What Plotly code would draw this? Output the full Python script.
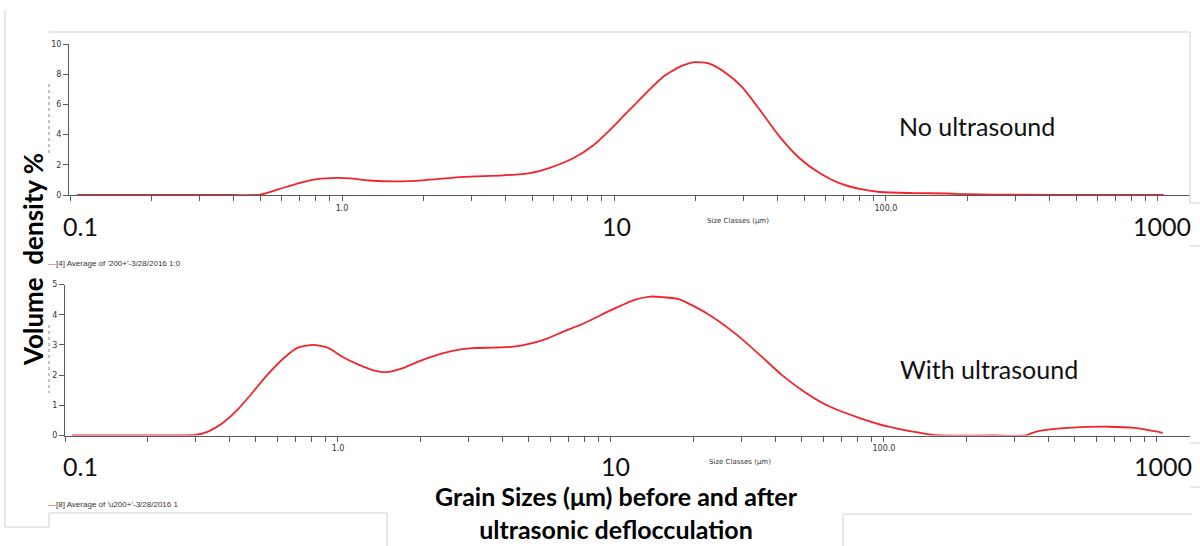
import plotly.graph_objects as go

# ---------------- data ----------------
size_no_us = [0.106, 0.2, 0.3, 0.4, 0.5, 0.59, 0.70, 0.81, 0.96, 1.07, 1.26, 1.59, 1.98,
              2.79, 3.9, 4.9, 5.8, 7.1, 8.4, 9.4, 10.8, 13.2, 15.1, 17.5, 19.8, 22.4,
              25.7, 29.6, 34.5, 40.7, 48, 57, 67, 80, 95, 125, 167, 198, 300, 600, 1050]
dens_no_us = [0, 0, 0, 0, 0.02, 0.4, 0.8, 1.05, 1.13, 1.1, 0.96, 0.9, 0.97,
              1.2, 1.3, 1.45, 1.8, 2.45, 3.3, 4.1, 5.2, 6.8, 7.8, 8.5, 8.8, 8.7,
              8.1, 7.15, 5.6, 3.85, 2.45, 1.45, 0.8, 0.4, 0.2, 0.13, 0.1, 0.05, 0.02, 0.01, 0.01]

size_us = [0.106, 0.2, 0.3, 0.334, 0.376, 0.427, 0.484, 0.55, 0.64, 0.71, 0.81, 0.92,
           1.04, 1.2, 1.36, 1.52, 1.73, 2.0, 2.3, 2.63, 3.1, 3.7, 4.4, 5.0, 5.8, 6.7,
           7.9, 10, 12.2, 13.9, 15.5, 17.8, 22.4, 28.4, 34.5, 42.3, 51.8, 63.5, 82, 104,
           146, 160, 250, 330, 361, 472, 664, 830, 1050]
dens_us = [0, 0, 0.02, 0.13, 0.4, 0.84, 1.4, 2.0, 2.6, 2.9, 3.0, 2.9,
           2.6, 2.33, 2.15, 2.1, 2.23, 2.47, 2.66, 2.8, 2.89, 2.91, 2.94, 3.03, 3.2, 3.44,
           3.7, 4.15, 4.49, 4.6, 4.58, 4.51, 4.05, 3.39, 2.73, 2.0, 1.41, 0.95, 0.57, 0.29,
           0.04, 0, 0, 0, 0.13, 0.25, 0.29, 0.25, 0.09]

y_ticks_top = [0, 2, 4, 6, 8, 10]
y_ticks_bottom = [0, 1, 2, 3, 4, 5]
x_tick_vals = [m * d for d in (0.1, 1, 10, 100) for m in range(1, 10)] + [1000]
x_tick_text = {1: "1.0", 100: "100.0"}

panel_labels = ["No ultrasound", "With ultrasound"]
legend_labels = ["[4] Average of '200+'-3/28/2016 1:0", "[8] Average of 'u200+'-3/28/2016 1"]
big_x_labels = ["0.1", "10", "1000"]

W, H = 1200, 546
def px(x): return x / W
def py(y): return 1 - y / H

RED = "#f2232b"
AX = "#5a5a5a"

fig = go.Figure()
fig.add_trace(go.Scatter(x=size_no_us, y=dens_no_us, mode="lines",
                         line=dict(color=RED, width=1.8, shape="spline", smoothing=0.6),
                         xaxis="x", yaxis="y", showlegend=False))
fig.add_trace(go.Scatter(x=size_us, y=dens_us, mode="lines",
                         line=dict(color=RED, width=1.8, shape="spline", smoothing=0.6),
                         xaxis="x2", yaxis="y2", showlegend=False))

ticktext = [x_tick_text.get(round(v, 6), "") for v in x_tick_vals]

xcommon = dict(type="log", tickvals=x_tick_vals, ticktext=ticktext, showgrid=False,
               zeroline=False, showline=True, linecolor=AX, linewidth=1,
               ticks="outside", ticklen=5, tickcolor=AX, tickwidth=1,
               tickfont=dict(size=8, color="#333", family="DejaVu Sans"),
               automargin=False, fixedrange=True)
ycommon = dict(showgrid=False, zeroline=False, showline=True, linecolor=AX, linewidth=1,
               ticks="outside", ticklen=5, tickcolor=AX, tickwidth=1,
               tickfont=dict(size=8, color="#333", family="DejaVu Sans"),
               automargin=False, fixedrange=True)

fig.update_layout(
    width=W, height=H, margin=dict(l=0, r=0, t=0, b=0),
    paper_bgcolor="white", plot_bgcolor="white",
    xaxis=dict(xcommon, domain=[px(69), px(1190)], range=[-1.004, 3.118], anchor="y"),
    yaxis=dict(ycommon, domain=[py(195), py(44)], range=[0, 10], tickvals=y_ticks_top, anchor="x"),
    xaxis2=dict(xcommon, domain=[px(65), px(1190)], range=[-1.0, 3.121], anchor="y2"),
    yaxis2=dict(ycommon, domain=[py(435.5), py(284.5)], range=[0, 5], tickvals=y_ticks_bottom, anchor="x2"),
)

ann = []
big = dict(family="Lato", size=25, color="#111")
# big overlay x labels
for (yy, xs) in [(226, [80, 616, 1162]), (466, [80, 615, 1163])]:
    for t, xx in zip(big_x_labels, xs):
        ann.append(dict(x=px(xx), y=py(yy), xref="paper", yref="paper", text=t,
                        showarrow=False, font=big, xanchor="center", yanchor="middle"))
# panel labels
ann.append(dict(x=px(897), y=py(126), xref="paper", yref="paper", text=panel_labels[0],
                showarrow=False, font=big, xanchor="left", yanchor="middle"))
ann.append(dict(x=px(898), y=py(369), xref="paper", yref="paper", text=panel_labels[1],
                showarrow=False, font=big, xanchor="left", yanchor="middle"))
# small axis captions
for (xx, yy) in [(738, 221), (740, 462)]:
    ann.append(dict(x=px(xx), y=py(yy), xref="paper", yref="paper", text="Size Classes (µm)",
                    showarrow=False, font=dict(family="DejaVu Sans", size=7, color="#333"),
                    xanchor="center", yanchor="middle"))
# legends
for (yy, t) in [(263, legend_labels[0]), (504, legend_labels[1])]:
    ann.append(dict(x=px(46), y=py(yy), xref="paper", yref="paper",
                    text=f"<span style='color:{RED}'>—</span>{t}",
                    showarrow=False, font=dict(family="Liberation Sans", size=8, color="#333"),
                    xanchor="left", yanchor="middle"))
# y title
ann.append(dict(x=px(33), y=py(260), xref="paper", yref="paper", text="Volume&nbsp; density %",
                textangle=-90, showarrow=False,
                font=dict(family="Lato", size=26, color="#000", weight="bold"),
                xanchor="center", yanchor="middle"))
# x title
ann.append(dict(x=px(616), y=py(512), xref="paper", yref="paper",
                text="Grain Sizes (μm) before and after<br>ultrasonic deflocculation",
                showarrow=False, font=dict(family="Lato", size=25, color="#000", weight="bold"),
                xanchor="center", yanchor="middle", align="center"))
fig.update_layout(annotations=ann)

# screenshot frame lines
G = "#cfcfcf"
segs = [
    (49, 32, 1190, 32), (1190, 32, 1190, 203), (1190, 203, 1200, 203), (1190, 246, 1200, 246),
    (5, 10, 5, 527), (5, 527, 49, 527), (49, 513, 49, 527), (49, 513, 387, 513),
    (387, 513, 387, 546), (843, 514, 1192, 514), (843, 514, 843, 546),
    (1190, 443, 1200, 443), (1190, 487, 1200, 487),
]
shapes = [dict(type="line", xref="paper", yref="paper", x0=px(a), y0=py(b), x1=px(c), y1=py(d),
               line=dict(color=G, width=1)) for a, b, c, d in segs]
for (y0, y1) in [(84, 155), (325, 393)]:
    shapes.append(dict(type="line", xref="paper", yref="paper", x0=px(49), y0=py(y0), x1=px(49), y1=py(y1),
                       line=dict(color="#888", width=1, dash="dot")))
fig.update_layout(shapes=shapes)

fig.write_html("out.html")
